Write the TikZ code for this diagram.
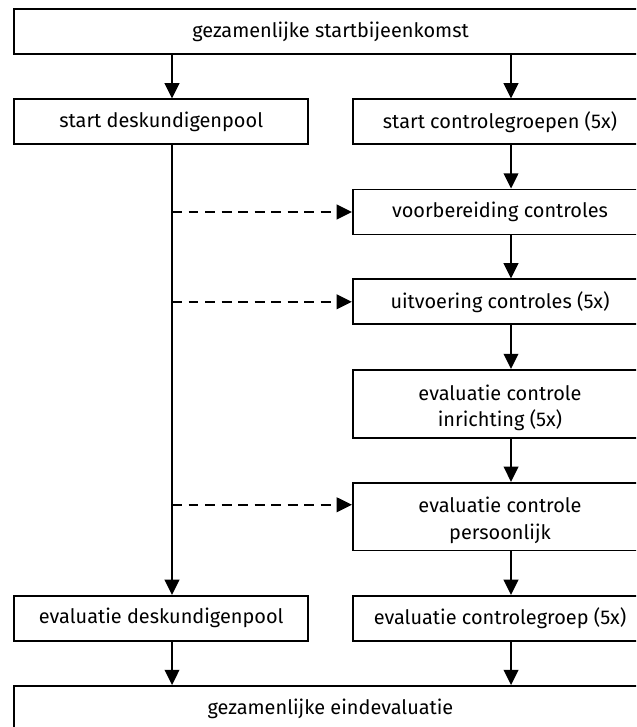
\documentclass[tikz,border=0pt]{standalone}
\usepackage{fontspec}
\setmainfont{Fira Sans}
\usetikzlibrary{arrows.meta,calc}
\begin{document}
\begin{tikzpicture}[x=0.03cm,y=-0.03cm,
  every node/.style={font=\fontsize{17}{22.8}\selectfont},
  box/.style={draw=black, line width=1.6pt, rectangle, inner sep=0pt, align=center, minimum height=1.35cm},
  wide/.style={box, minimum width=18.99cm},
  half/.style={box, minimum width=8.83cm},
  tall/.style={box, minimum width=8.83cm, minimum height=2.03cm},
  arr/.style={line width=1.6pt, -{Triangle[length=13pt,width=12.5pt]}},
  darr/.style={arr, dash pattern=on 8.5pt off 5.6pt}
]
\useasboundingbox (0,0) rectangle (636,727);
\fill[white] (0,0) rectangle (636,727);
\clip (0,0) rectangle (636,727);

\node[wide] (top) at (330.5,31.8) {gezamenlijke startbijeenkomst};
\node[half] (sd) at (161.2,121.8) {start deskundigenpool};
\node[half] (sc) at (500,121.8) {start controlegroepen (5x)};
\node[half] (vc) at (500,212) {voorbereiding controles};
\node[half] (uc) at (500,301.8) {uitvoering controles (5x)};
\node[tall] (ei) at (500,403.8) {\rule{0pt}{20pt}evaluatie controle\\inrichting (5x)};
\node[tall] (ep) at (500,516.6) {\rule{0pt}{20pt}evaluatie controle\\persoonlijk};
\node[half] (ed) at (161.2,618.3) {evaluatie deskundigenpool};
\node[half] (ec) at (500,618.3) {evaluatie controlegroep (5x)};
\node[wide] (end) at (330.5,708.5) {gezamenlijke eindevaluatie};

\coordinate (L) at (172,0);
\coordinate (R) at (511,0);

\draw[arr] (top.south -| L) -- (sd.north -| L);
\draw[arr] (top.south -| R) -- (sc.north -| R);
\draw[arr] (sc.south -| R) -- (vc.north -| R);
\draw[arr] (vc.south -| R) -- (uc.north -| R);
\draw[arr] (uc.south -| R) -- (ei.north -| R);
\draw[arr] (ei.south -| R) -- (ep.north -| R);
\draw[arr] (ep.south -| R) -- (ec.north -| R);
\draw[arr] (sd.south -| L) -- (ed.north -| L);
\draw[arr] (ed.south -| L) -- (end.north -| L);
\draw[arr] (ec.south -| R) -- (end.north -| R);

\coordinate (pa) at ($(ep.north west)!0.33!(ep.south west)$);
\draw[darr] (vc.west -| L) -- (vc.west);
\draw[darr] (uc.west -| L) -- (uc.west);
\draw[darr] (pa -| L) -- (pa);
\end{tikzpicture}
\end{document}
